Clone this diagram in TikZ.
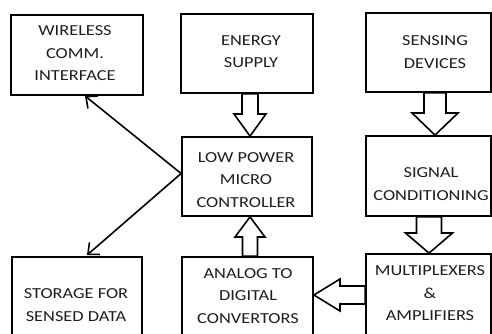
\documentclass[tikz,border=0pt]{standalone}
\usepackage{fontspec}
\setmainfont{Carlito}[FakeStretch=1.2]
\usetikzlibrary{calc,arrows.meta}
\definecolor{txt}{RGB}{30,30,30}
\tikzset{
  box/.style={draw, line width=1.8pt, inner sep=0pt},
  lbl/.style={align=center, text=txt, inner sep=0pt, font=\fontsize{15.3}{22.5}\selectfont},
  hollow/.style={draw, fill=white, line width=1.6pt, line join=miter},
  conn/.style={line width=1.6pt, -{Straight Barb[length=9pt,width=16pt,line width=1.6pt]}},
}
\newcommand\hdown[6]{\draw[hollow] ({#3-#4},0 |- #1.south) -- ({#3-#4},#6) -- ({#3-#5},#6) -- (#3,0 |- #2.north) -- ({#3+#5},#6) -- ({#3+#4},#6) -- ({#3+#4},0 |- #1.south) -- cycle;}
\newcommand\hup[6]{\draw[hollow] ({#3-#4},0 |- #1.north) -- ({#3-#4},#6) -- ({#3-#5},#6) -- (#3,0 |- #2.south) -- ({#3+#5},#6) -- ({#3+#4},#6) -- ({#3+#4},0 |- #1.north) -- cycle;}
\begin{document}
\begin{tikzpicture}[x=1pt,y=-1pt]
\clip (0,0) rectangle (492,334);
\fill[white] (0,0) rectangle (492,334);
% boxes
\node[box, minimum width=132, minimum height=80] (wc) at (77,55) {};
\node[box, minimum width=132, minimum height=79] (es) at (247,53.5) {};
\node[box, minimum width=125, minimum height=79] (sd) at (428.5,52.5) {};
\node[box, minimum width=130, minimum height=79] (lp) at (247,176.5) {};
\node[box, minimum width=125, minimum height=80] (sc) at (428.5,176) {};
\node[box, minimum width=130, minimum height=100] (st) at (77,307) {};
\node[box, minimum width=131, minimum height=100] (adc) at (247.5,307) {};
\node[box, minimum width=125, minimum height=100] (mux) at (428.5,304) {};
% texts
\node[lbl] (twc) at (75,53.5) {WIRELESS\\COMM.\\INTERFACE};
\node[lbl] (tes) at (251,51.5) {ENERGY\\SUPPLY};
\node[lbl] (tsd) at (435,52) {SENSING\\DEVICES};
\node[lbl] (tlp) at (246,180) {LOW POWER\\MICRO\\CONTROLLER};
\node[lbl] (tsc) at (431,184) {SIGNAL\\CONDITIONING};
\node[lbl] (tst) at (76,305) {STORAGE FOR\\SENSED DATA};
\node[lbl] (tadc) at (248,296) {ANALOG TO\\DIGITAL\\CONVERTORS};
\node[lbl] (tmux) at (430,293.5) {MULTIPLEXERS\\\&\\AMPLIFIERS};
% hollow arrows
\hdown{es}{lp}{250}{8}{16}{114}
\hdown{sd}{sc}{435}{11}{23}{113}
\hup{adc}{lp}{250}{7.5}{15}{237}
\hdown{sc}{mux}{429}{12.5}{23.5}{233}
\draw[hollow] (mux.west |- 0,286) -- (340,286) -- (340,279) -- (adc.east |- 0,295) -- (340,311) -- (340,304) -- (mux.west |- 0,304) -- cycle;
% connectors
\coordinate (src) at ($(lp.west)+(0,-3)$);
\draw[conn] (src) -- ($(wc.south)+(8,0)$);
\draw[conn] (src) -- ($(st.north)+(10,-1)$);
\end{tikzpicture}
\end{document}
